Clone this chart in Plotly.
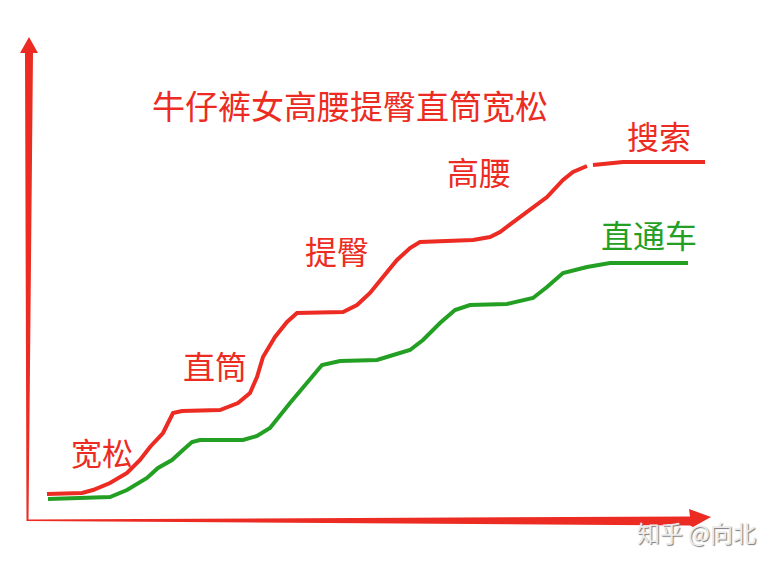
import plotly.graph_objects as go

# Hand-drawn curves (x: time, y: position, screen-like units)
red_x = [47, 82, 93, 110, 127, 140, 150, 157, 163, 168, 173, 182, 220, 238, 250, 257, 263, 275, 287, 297,
         343, 357, 370, 383, 397, 410, 420, 473, 490, 500, 520, 547, 563, 573, 587, None, 593, 613, 623, 705]
red_y = [494, 493, 490, 483, 473, 460, 447, 440, 433, 423, 413, 411, 410, 403, 393, 377, 357, 337, 322, 313,
         312, 305, 293, 277, 260, 248, 242, 240, 237, 232, 217, 197, 180, 172, 166, None, 165, 163, 162, 162]

green_x = [48, 83, 110, 127, 147, 158, 172, 183, 192, 200, 243, 257, 270, 290, 307, 322, 340, 377, 390, 410,
           423, 440, 455, 470, 507, 533, 547, 563, 587, 610, 688]
green_y = [499, 498, 497, 490, 478, 468, 460, 450, 442, 440, 440, 436, 428, 403, 383, 365, 361, 360, 356, 350,
           340, 323, 310, 305, 304, 298, 287, 273, 267, 263, 263]

title_text = "牛仔裤女高腰提臀直筒宽松"
stage_labels = ["宽松", "直筒", "提臀", "高腰", "搜索"]
stage_x = [102, 215, 337, 479, 659]
stage_y = [451, 365, 250, 171, 135]
green_label = "直通车"
green_label_pos = (649, 234)
watermark = "知乎 @向北"

RED = "#ec2b22"
GREEN = "#23a023"
FONT = "Noto Sans CJK SC"

fig = go.Figure()
fig.add_trace(go.Scatter(x=red_x, y=red_y, mode="lines", line=dict(color=RED, width=4),
                         connectgaps=False, hoverinfo="skip"))
fig.add_trace(go.Scatter(x=green_x, y=green_y, mode="lines", line=dict(color=GREEN, width=4),
                         hoverinfo="skip"))

# axes drawn as tapered hand-drawn arrows
fig.add_shape(type="path",
              path="M 26.5 521 L 25 53 L 20 53 L 29 37 L 38 53 L 33 53 L 28.5 521 Z",
              xref="x", yref="y", fillcolor=RED, line=dict(width=0))
fig.add_shape(type="path",
              path="M 27 519.5 L 690 516.5 L 689 509 L 711 517 L 693 527 L 690 525.5 L 27 521 Z",
              xref="x", yref="y", fillcolor=RED, line=dict(width=0))

fig.add_annotation(x=350, y=105, text=title_text, showarrow=False,
                   font=dict(family=FONT, size=33, color=RED))
for t, x, y in zip(stage_labels, stage_x, stage_y):
    fig.add_annotation(x=x, y=y, text=t, showarrow=False,
                       font=dict(family=FONT, size=32 if t != "宽松" else 31, color=RED))
fig.add_annotation(x=green_label_pos[0], y=green_label_pos[1], text=green_label, showarrow=False,
                   font=dict(family=FONT, size=32, color=GREEN))
fig.add_annotation(x=696, y=532, text=watermark, showarrow=False,
                   font=dict(family=FONT, size=23, color="#ececec",
                             shadow="1px 1px 1px #7a7a7a"))

# the page body adds an 8px offset; ranges compensate so marks land where they are in the reference
fig.update_layout(
    width=779, height=564,
    margin=dict(l=0, r=0, t=0, b=0),
    paper_bgcolor="white", plot_bgcolor="white",
    showlegend=False,
    xaxis=dict(range=[8, 787], visible=False, fixedrange=True),
    yaxis=dict(range=[572, 8], visible=False, fixedrange=True),
)
fig.write_html("out.html")
